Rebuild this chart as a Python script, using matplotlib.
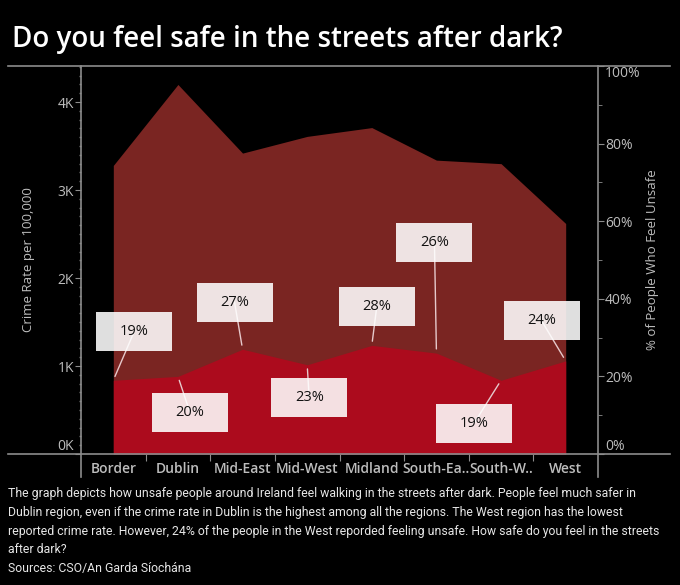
import matplotlib
matplotlib.use("Agg")
import matplotlib.pyplot as plt
import matplotlib.transforms as mtransforms
from matplotlib.patches import Rectangle
from matplotlib.lines import Line2D
from matplotlib.ticker import FuncFormatter, MultipleLocator

regions = ["Border", "Dublin", "Mid-East", "Mid-West", "Midland", "South-Ea..", "South-W..", "West"]
crime_rate = [3280, 4200, 3420, 3610, 3710, 3340, 3300, 2620]
pct_unsafe = [0.19, 0.20, 0.27, 0.23, 0.28, 0.26, 0.19, 0.24]
pct_labels = ["19%", "20%", "27%", "23%", "28%", "26%", "19%", "24%"]

# label box offsets (pixels) from the data point
label_offsets = [(21, 49), (12, -36), (-8, 47), (2, -33), (5, 39), (-2, 111), (-27, -43), (-24, 40)]

BG = "#000000"
DARK = "#7a2522"
BRIGHT = "#ac0b1d"
TXT = "#bdbdbd"
LINE = "#8c8c8c"

plt.rcParams["font.family"] = ["Open Sans", "DejaVu Sans"]

W, H = 680, 585
fig = plt.figure(figsize=(W / 100, H / 100), dpi=100, facecolor=BG)
ax = fig.add_axes([81 / W, 1 - 454 / H, (598 - 81) / W, (454 - 66) / H])
ax.set_facecolor(BG)
ax2 = ax.twinx()

x = list(range(len(regions)))
ax.fill_between(x, 0, crime_rate, color=DARK, lw=0, zorder=1)
ax2.fill_between(x, 0, pct_unsafe, color=BRIGHT, lw=0, zorder=1)

ax.set_xlim(-0.5, len(regions) - 0.5)
ax.set_ylim(0, 4410)
ax2.set_ylim(0, 1.0)

for a in (ax, ax2):
    for s in a.spines.values():
        s.set_visible(False)

# ticks
ax.set_xticks([i + 0.5 for i in range(len(regions) - 1)])
ax.set_xticklabels([])
ax.set_xticks(x, minor=True)
ax.set_xticklabels(regions, minor=True)
ax.tick_params(axis="x", which="major", length=5, color=LINE, direction="out", pad=0)
ax.tick_params(axis="x", which="minor", length=0, pad=6, labelsize=10, labelcolor=TXT)
for t in ax.get_xticklabels(minor=True):
    t.set_fontweight("semibold")

ax.yaxis.set_major_locator(MultipleLocator(1000))
ax.yaxis.set_minor_locator(MultipleLocator(100))
ax.yaxis.set_major_formatter(FuncFormatter(lambda v, p: f"{int(v/1000)}K"))
ax.tick_params(axis="y", which="major", length=4, color=LINE, labelsize=10, labelcolor=TXT, pad=1)
ax.tick_params(axis="y", which="minor", length=1.5, width=1, color="#777777")

ax2.yaxis.set_major_locator(MultipleLocator(0.2))
ax2.yaxis.set_minor_locator(MultipleLocator(0.1))
ax2.yaxis.set_major_formatter(FuncFormatter(lambda v, p: f"{int(round(v*100))}%"))
ax2.tick_params(axis="y", which="major", length=4, color=LINE, labelsize=10, labelcolor=TXT, pad=1)
ax2.tick_params(axis="y", which="minor", length=3, color=LINE)

fig.canvas.draw()
for t in ax.get_yticklabels():
    if t.get_text() == "0K":
        t.set_va("bottom")
for t in ax2.get_yticklabels():
    if t.get_text() == "0%":
        t.set_va("bottom")
    elif t.get_text() == "100%":
        t.set_va("top")

ax.set_ylabel("Crime Rate per 100,000", color=TXT, fontsize=9.5, labelpad=16)
ax2.set_ylabel("% of People Who Feel Unsafe", color=TXT, fontsize=9.5, labelpad=4)

# labels with boxes and leader lines
for i, (p, lab, (dx, dy)) in enumerate(zip(pct_unsafe, pct_labels, label_offsets)):
    base = mtransforms.ScaledTranslation(i, p, ax2.transData)
    ax2.annotate("", xy=(i, p), xytext=(dx, dy), textcoords="offset pixels",
                 arrowprops=dict(arrowstyle="-", color="#e6c9cb", lw=1, shrinkA=0, shrinkB=3),
                 zorder=3, annotation_clip=False)
    rect = Rectangle((dx - 38, dy - 19.5), 76, 39, transform=mtransforms.Affine2D() + base,
                     facecolor="white", alpha=0.88, edgecolor="none", zorder=4, clip_on=False)
    ax2.add_artist(rect)
    ax2.annotate(lab, xy=(i, p), xytext=(dx, dy), textcoords="offset pixels",
                 ha="center", va="center", fontsize=10.5, fontweight="medium",
                 color="#111111", zorder=5, annotation_clip=False)

# frame lines
def hline(y, x0, x1):
    fig.add_artist(Line2D([x0 / W, x1 / W], [1 - y / H, 1 - y / H], color=LINE, lw=1.2))
def vline(xp, y0, y1):
    fig.add_artist(Line2D([xp / W, xp / W], [1 - y0 / H, 1 - y1 / H], color=LINE, lw=1.2))

hline(66, 8, 670)
hline(454, 8, 670)
vline(81, 66, 477)
vline(598, 66, 477)

fig.text(12 / W, 1 - 47 / H, "Do you feel safe in the streets after dark?", color="white",
         fontsize=20, fontweight="semibold", va="baseline", ha="left")

caption = ("The graph depicts how unsafe people around Ireland feel walking in the streets after dark. People feel much safer in\n"
           "Dublin region, even if the crime rate in Dublin is the highest among all the regions. The West region has the lowest\n"
           "reported crime rate. However, 24% of the people in the West reporded feeling unsafe. How safe do you feel in the streets\n"
           "after dark?\n"
           "Sources: CSO/An Garda Síochána")
fig.text(8 / W, 1 - 487 / H, caption, color="#e6e6e6", fontsize=8.8, va="top", ha="left",
         linespacing=1.58, family=["Roboto", "DejaVu Sans"])

fig.savefig("out.png", dpi=100, facecolor=BG)
